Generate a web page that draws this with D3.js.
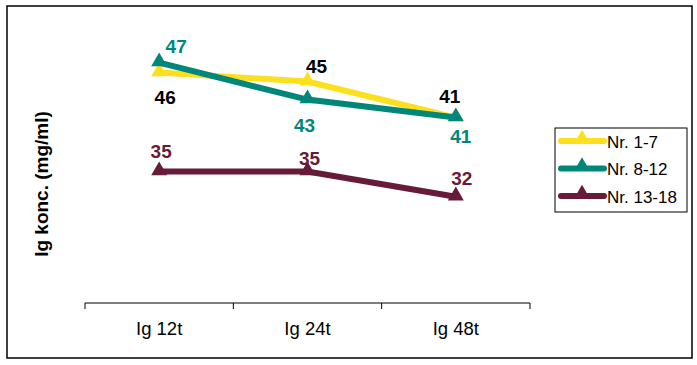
<!DOCTYPE html>
<html><head><meta charset="utf-8">
<script src="https://cdn.jsdelivr.net/npm/d3@7"></script>
<style>body{margin:0;background:#fff;font-family:"Liberation Sans",Arial,sans-serif}</style>
</head><body>
<svg id="c" width="697" height="365"></svg>
<script>
const categories = ["Ig 12t", "Ig 24t", "Ig 48t"];
const seriesNames = ["Nr. 1-7", "Nr. 8-12", "Nr. 13-18"];
const valuesA = [45.6, 44.6, 40.6];
const valuesB = [46.7, 42.6, 40.6];
const valuesC = [34.6, 34.6, 31.8];
const labelsA = ["46", "45", "41"];
const labelsB = ["47", "43", "41"];
const labelsC = ["35", "35", "32"];
const colors = ["#FCE01E", "#00877A", "#661C38"];
const labelColors = ["#000000", "#00877A", "#661C38"];
// label offsets (dx, dy relative to point), styling only
const labelOffsets = [
  [[6, 31], [9, -9], [-6, -15]],
  [[17, -10], [-3, 32], [5, 25]],
  [[2, -14], [2, -7], [6, -12]]
];

const svg = d3.select("#c");
svg.append("rect").attr("x", 7).attr("y", 6).attr("width", 685).attr("height", 352)
  .attr("fill", "#fff").attr("stroke", "#000").attr("stroke-width", 1.5);

const x = d3.scaleBand().domain(categories).range([85, 530]);
const y = d3.scaleLinear().domain([20, 50]).range([303, 33]);

const gx = svg.append("g").attr("transform", "translate(0,303)");
gx.append("line").attr("x1", 85).attr("x2", 530).attr("stroke", "#000").attr("stroke-width", 1);
const edges = [85].concat(categories.map(c => x(c) + x.bandwidth()));
gx.selectAll("line.t").data(edges).join("line").attr("class", "t")
  .attr("x1", d => d).attr("x2", d => d).attr("y1", 0).attr("y2", 6).attr("stroke", "#000");
gx.selectAll("text").data(categories).join("text")
  .attr("x", d => x(d) + x.bandwidth() / 2).attr("y", 32)
  .attr("text-anchor", "middle").attr("font-size", 18.5).text(d => d);

svg.append("text").attr("transform", "translate(48,184) rotate(-90)")
  .attr("text-anchor", "middle").attr("font-size", 19).attr("font-weight", "bold")
  .text("Ig konc. (mg/ml)");

const data = [valuesA, valuesB, valuesC];
const labels = [labelsA, labelsB, labelsC];
const cx = c => x(c) + x.bandwidth() / 2;
const line = d3.line().x((d, i) => cx(categories[i])).y(d => y(d));
const tri = d3.symbol().type(d3.symbolTriangle).size(110);

data.forEach((vals, s) => {
  const g = svg.append("g");
  g.append("path").attr("d", line(vals)).attr("fill", "none")
    .attr("stroke", colors[s]).attr("stroke-width", 6);
  g.selectAll("path.m").data(vals).join("path").attr("class", "m")
    .attr("transform", (d, i) => `translate(${cx(categories[i])},${y(d) - 1})`)
    .attr("d", tri).attr("fill", colors[s]);
});
data.forEach((vals, s) => {
  svg.append("g").selectAll("text").data(vals).join("text")
    .attr("x", (d, i) => cx(categories[i]) + labelOffsets[s][i][0])
    .attr("y", (d, i) => y(d) + labelOffsets[s][i][1])
    .attr("text-anchor", "middle").attr("font-size", 19).attr("font-weight", "bold")
    .attr("fill", labelColors[s]).text((d, i) => labels[s][i]);
});

// legend
const lg = svg.append("g");
lg.append("rect").attr("x", 555).attr("y", 128).attr("width", 132).attr("height", 84)
  .attr("fill", "#fff").attr("stroke", "#000").attr("stroke-width", 1);
seriesNames.forEach((n, i) => {
  const yy = 141 + i * 27.5;
  lg.append("line").attr("x1", 561).attr("x2", 604).attr("y1", yy).attr("y2", yy)
    .attr("stroke", colors[i]).attr("stroke-width", 6).attr("stroke-linecap", "round");
  lg.append("path").attr("d", tri).attr("transform", `translate(582,${yy - 2})`).attr("fill", colors[i]);
  lg.append("text").attr("x", 607).attr("y", yy + 6.5).attr("font-size", 17).text(n);
});
</script>
</body></html>
